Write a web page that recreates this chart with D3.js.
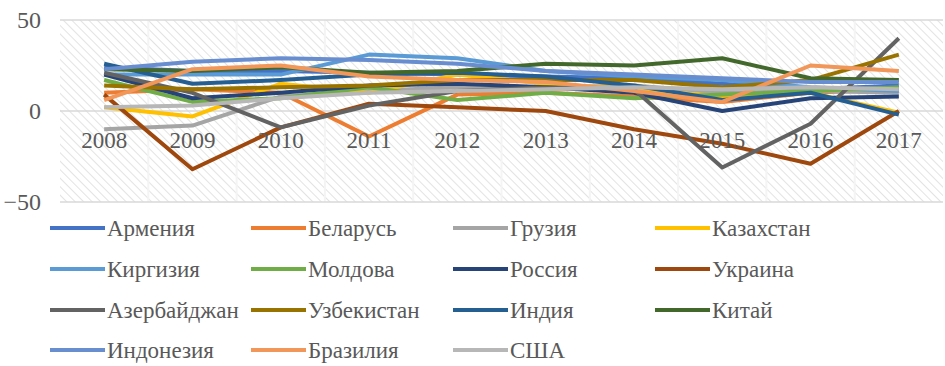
<!DOCTYPE html>
<html>
<head>
<meta charset="utf-8">
<script src="https://cdn.jsdelivr.net/npm/d3@7"></script>
<style>
  body { margin: 0; background: #fff; }
  svg text { font-family: "Liberation Serif", "DejaVu Serif", "Times New Roman", serif; }
</style>
</head>
<body>
<div id="chart"></div>
<script>
// годы
var years = ["2008","2009","2010","2011","2012","2013","2014","2015","2016","2017"];
var yTicks = [-50, 0, 50];

// страны и цвета
var countries = ["Армения","Беларусь","Грузия","Казахстан","Киргизия","Молдова","Россия","Украина",
                 "Азербайджан","Узбекистан","Индия","Китай","Индонезия","Бразилия","США"];
var colors = ["#4472C4","#ED7D31","#A5A5A5","#FFC000","#5B9BD5","#70AD47","#264478","#9E480E",
              "#636363","#997300","#255E91","#43682B","#698ED0","#F1975A","#B7B7B7"];

// значения по странам (оценка по рисунку)
var armenia     = [24, 22, 22, 21, 20, 19, 18, 15, 12, 14];
var belarus     = [10, 12, 10, -14, 9, 10, 8, 5, 10, 12];
var georgia     = [-10, -8, 8, 11, 13, 13, 14, 10, 11, 10];
var kazakhstan  = [2, -3, 15, 10, 20, 15, 12, 8, 10, -1];
var kyrgyzstan  = [20, 20, 20, 31, 29, 22, 19, 17, 13, 11];
var moldova     = [17, 5, 7, 13, 6, 10, 7, 9, 11, 13];
var russia      = [20, 7, 10, 14, 15, 13, 10, 0, 7, 8];
var ukraine     = [9, -32, -9, 4, 2, 0, -10, -18, -29, 0];
var azerbaijan  = [21, 10, -9, 3, 11, 13, 12, -31, -7, 40];
var uzbekistan  = [14, 12, 13, 14, 17, 17, 17, 13, 17, 31];
var india       = [26, 15, 17, 20, 21, 19, 14, 6, 10, -2];
var china       = [23, 22, 24, 21, 22, 26, 25, 29, 18, 17];
var indonesia   = [23, 27, 29, 28, 26, 22, 20, 18, 16, 16];
var brazil      = [6, 23, 25, 19, 17, 16, 11, 5, 25, 22];
var usa         = [2, 3, 7, 10, 11, 12, 13, 12, 13, 12];

var values = [armenia, belarus, georgia, kazakhstan, kyrgyzstan, moldova, russia, ukraine,
              azerbaijan, uzbekistan, india, china, indonesia, brazil, usa];

var W = 945, H = 366;
var plot = {left: 60, right: 943, top: 20, bottom: 202};
var serif = "'Liberation Serif', 'DejaVu Serif', 'Times New Roman', serif";

var svg = d3.select("#chart").append("svg")
    .attr("width", W).attr("height", H);

// штриховка фона
var defs = svg.append("defs");
var pat = defs.append("pattern")
    .attr("id", "hatch")
    .attr("patternUnits", "userSpaceOnUse")
    .attr("width", 6).attr("height", 6)
    .attr("patternTransform", "rotate(-45)");
pat.append("rect").attr("width", 6).attr("height", 6).attr("fill", "#fff");
pat.append("line")
    .attr("x1", 0).attr("y1", 0).attr("x2", 0).attr("y2", 6)
    .attr("stroke", "#dcdcdc").attr("stroke-width", 1.6);

svg.append("rect")
    .attr("x", plot.left).attr("y", plot.top)
    .attr("width", plot.right - plot.left).attr("height", plot.bottom - plot.top)
    .attr("fill", "url(#hatch)");

var x = d3.scaleBand().domain(years).range([plot.left, plot.right]);
var y = d3.scaleLinear().domain([-50, 50]).range([plot.bottom, plot.top]);

// вертикальные линии между категориями
svg.append("g").selectAll("line")
    .data(years.slice(1))
    .join("line")
    .attr("x1", d => x(d)).attr("x2", d => x(d))
    .attr("y1", plot.top).attr("y2", plot.bottom)
    .attr("stroke", "#f4f4f4").attr("stroke-width", 2);

// горизонтальные линии сетки
svg.append("g").selectAll("line")
    .data(yTicks)
    .join("line")
    .attr("x1", plot.left).attr("x2", plot.right)
    .attr("y1", d => y(d)).attr("y2", d => y(d))
    .attr("stroke", "#d9d9d9").attr("stroke-width", 1.3);

// ось Y
var yAxis = svg.append("g")
    .attr("transform", "translate(" + plot.left + ",0)")
    .call(d3.axisLeft(y).tickValues(yTicks).tickSize(0).tickPadding(19));
yAxis.attr("font-family", serif);
yAxis.select(".domain").remove();
yAxis.selectAll("text").attr("font-size", 24).attr("fill", "#595959");

// линии
var line = d3.line()
    .x((d, i) => x(years[i]) + x.bandwidth() / 2)
    .y(d => y(d));

svg.append("g").selectAll("path")
    .data(values)
    .join("path")
    .attr("d", d => line(d))
    .attr("fill", "none")
    .attr("stroke", (d, i) => colors[i])
    .attr("stroke-width", 4)
    .attr("stroke-linejoin", "round");

// ось X (подписи у нуля)
var xAxis = svg.append("g")
    .attr("transform", "translate(0," + y(0) + ")")
    .call(d3.axisBottom(x).tickSize(0).tickPadding(21));
xAxis.attr("font-family", serif);
xAxis.select(".domain").remove();
xAxis.selectAll("text").attr("font-size", 23).attr("fill", "#595959");

// легенда
var legendCols = [50, 251, 453, 655];
var legendRows = [228, 269, 310, 350];
var leg = svg.append("g").attr("font-family", serif).selectAll("g")
    .data(countries)
    .join("g")
    .attr("transform", (d, i) => "translate(" + legendCols[i % 4] + "," + legendRows[Math.floor(i / 4)] + ")");
leg.append("line")
    .attr("x1", 0).attr("x2", 55).attr("y1", 0).attr("y2", 0)
    .attr("stroke", (d, i) => colors[i]).attr("stroke-width", 4);
leg.append("text")
    .attr("x", 57).attr("y", 0).attr("dy", "0.35em")
    .attr("font-size", 23).attr("fill", "#595959")
    .text(d => d);
</script>
</body>
</html>
